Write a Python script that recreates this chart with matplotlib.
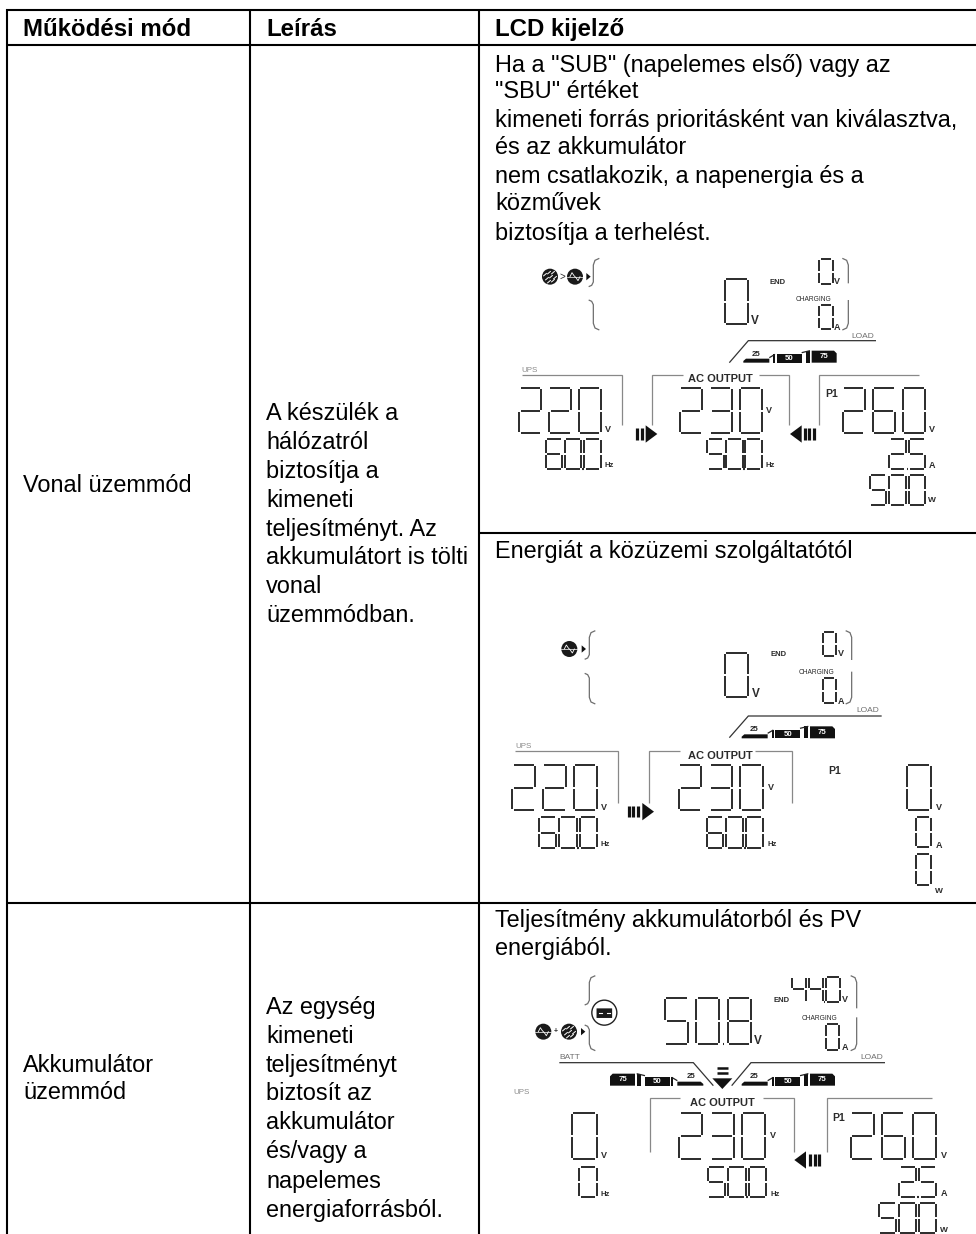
import matplotlib
matplotlib.use("Agg")
import matplotlib.pyplot as plt
from matplotlib.patches import Circle, Polygon, FancyBboxPatch

plt.rcParams["font.family"] = ["Liberation Sans", "DejaVu Sans"]

# --- table text ---
headers = ["Működési mód", "Leírás", "LCD kijelző"]
mode_line = ["Vonal üzemmód"]
mode_batt = ["Akkumulátor", "üzemmód"]
desc_line = ["A készülék a", "hálózatról", "biztosítja a", "kimeneti", "teljesítményt. Az",
             "akkumulátort is tölti", "vonal", "üzemmódban."]
desc_batt = ["Az egység", "kimeneti", "teljesítményt", "biztosít az", "akkumulátor",
             "és/vagy a", "napelemes", "energiaforrásból."]
lcd_note_1 = ['Ha a "SUB" (napelemes első) vagy az', '"SBU" értéket',
              "kimeneti forrás prioritásként van kiválasztva,", "és az akkumulátor",
              "nem csatlakozik, a napenergia és a", "közművek", "biztosítja a terhelést."]
lcd_note_2 = ["Energiát a közüzemi szolgáltatótól"]
lcd_note_3 = ["Teljesítmény akkumulátorból és PV", "energiából."]

# --- LCD readouts: ups volt, ups hz, output volt, output hz, pv volt, pv amp, pv watt ---
panel_1 = ["220", "60.0", "230", "50.0", "260", "2.5", "500"]
panel_2 = ["220", "60.0", "230", "60.0", "0", "0", "0"]
panel_3 = ["0", "0", "230", "50.0", "260", "2.5", "500"]
batt_volt_3 = "50.8"
batt_end_3 = "44.0"

SEGMENTS = {"0": "abcdef", "1": "bc", "2": "abged", "3": "abgcd", "4": "fgbc",
            "5": "afgcd", "6": "afgedc", "7": "abc", "8": "abcdefg", "9": "abcdfg"}
LCD = "#2b2b2b"
GREY = "#6e6e6e"

fig = plt.figure(figsize=(9.76, 12.34), dpi=100)
ax = fig.add_axes([0, 0, 1, 1])
ax.set_xlim(0, 976)
ax.set_ylim(1234, 0)
ax.axis("off")

def draw_lines(x, baselines, lines, size=16.9, weight="normal"):
    for y, line in zip(baselines, lines):
        ax.text(x, y, line, fontsize=size, fontweight=weight, va="baseline", ha="left", color="black")

# --- table frame ---
for y0, x0, x1 in [(9.5, 6, 976), (45, 6, 976), (533, 479, 976), (903, 6, 976)]:
    ax.plot([x0, x1], [y0, y0], color="black", lw=1.5, solid_capstyle="butt")
for x in [7, 250, 479]:
    ax.plot([x, x], [9, 1234], color="black", lw=1.5, solid_capstyle="butt")

draw_lines(23, [36], headers[:1], size=17.3, weight="bold")
draw_lines(266, [36], headers[1:2], size=17.3, weight="bold")
draw_lines(495, [36], headers[2:], size=17.3, weight="bold")
draw_lines(23, [492], mode_line)
draw_lines(23, [1072, 1099], mode_batt)
draw_lines(266, [420, 449, 478, 507, 536, 564, 593, 622], desc_line)
draw_lines(266, [1014, 1043, 1072, 1100, 1129, 1158, 1188, 1217], desc_batt)
draw_lines(495, [72, 98, 127, 154, 183, 210, 240], lcd_note_1)
draw_lines(495, [558], lcd_note_2)
draw_lines(495, [927, 955], lcd_note_3)


class Panel:
    # coordinates are in 3x zoom units relative to the panel origin
    def __init__(self, ox, oy):
        self.ox, self.oy = ox, oy

    def px(self, x, y):
        return self.ox + x / 3, self.oy + y / 3

    def line(self, pts, color=GREY, lw=0.9):
        xs, ys = zip(*[self.px(*p) for p in pts])
        ax.plot(xs, ys, color=color, lw=lw, solid_capstyle="butt", solid_joinstyle="miter")

    def label(self, x, y, s, size=6.7, weight="bold", color=LCD):
        X, Y = self.px(x, y)
        ax.text(X, Y, s, fontsize=size, fontweight=weight, color=color, ha="center", va="center")

    def poly(self, pts, color="#111111", **kw):
        ax.add_patch(Polygon([self.px(*p) for p in pts], closed=True, fc=color, ec="none", **kw))

    def digits(self, x0, x1, y0, y1, text):
        chars = text.replace(".", "")
        n = len(chars)
        ratio = 0.36 if y1 - y0 > 110 else 0.18
        w = (x1 - x0) / (n + ratio * (n - 1))
        gap = ratio * w
        ym = (y0 + y1) / 2
        dot_after = text.find(".") - 1 if "." in text else None
        for i, ch in enumerate(chars):
            l = x0 + i * (w + gap)
            r = l + w
            segs = {"a": [(l + 4, y0), (r - 4, y0)], "b": [(r, y0 + 3), (r, ym - 3)],
                    "c": [(r, ym + 3), (r, y1 - 3)], "d": [(l + 4, y1), (r - 4, y1)],
                    "e": [(l, ym + 3), (l, y1 - 3)], "f": [(l, y0 + 3), (l, ym - 3)],
                    "g": [(l + 5, ym), (r - 5, ym)]}
            for key in SEGMENTS[ch]:
                self.line(segs[key], color=LCD, lw=1.4)
            if i == dot_after:
                self.line([(r + gap / 2 - 2, y1), (r + gap / 2 + 3, y1)], color=LCD, lw=1.5)

    def grid_icon(self, x, y):
        cx, cy = self.px(x, y)
        ax.add_patch(Circle((cx, cy), 8, fc="#1a1a1a", ec="none"))
        ax.plot([cx - 8, cx + 8], [cy, cy], color="white", lw=0.5)
        ax.plot([cx - 5, cx - 3, cx - 1, cx + 1, cx + 3, cx + 5],
                [cy, cy - 4, cy - 1, cy + 1, cy + 4, cy], color="white", lw=0.6)

    def sun_icon(self, x, y):
        cx, cy = self.px(x, y)
        ax.add_patch(Circle((cx, cy), 8, fc="#1a1a1a", ec="none"))
        for dx, dy in [(-5, -2), (-3, 2), (-1, -4), (1, 0), (3, 4), (5, 1), (-1, 5), (3, -4)]:
            ax.plot([cx + dx - 1.4, cx + dx + 1.4], [cy + dy + 1.2, cy + dy - 1.2], color="white", lw=0.7)

    def tri(self, x, y, direction=1, w=13, h=20):
        self.poly([(x, y - h / 2), (x + direction * w, y), (x, y + h / 2)])

    def left_brace(self, x, y0, y1, tick0, tick1):
        self.line([(x + 18, y0), (x + 5, y0 + 6), (x, y0 + 20), (x, tick0 - 14), (x - 5, tick0 - 4), (x - 14, tick0)])
        self.line([(x - 14, tick1), (x - 5, tick1 + 4), (x, tick1 + 14), (x, y1 - 20), (x + 5, y1 - 6), (x + 18, y1)])

    def right_brace(self, x, y0, y1, gap0, gap1):
        self.line([(x - 18, y0), (x - 5, y0 + 6), (x, y0 + 20), (x, gap0)])
        self.line([(x, gap1), (x, y1 - 20), (x - 5, y1 - 6), (x - 18, y1)])

    def load_bars(self, x0, bottom, d=1):
        xx = lambda v: x0 + d * v
        self.poly([(xx(0), bottom - 5), (xx(8), bottom - 12), (xx(78), bottom - 12), (xx(78), bottom), (xx(0), bottom)])
        self.label(xx(38), bottom - 26, "25", size=5.6, color="#222222")
        self.line([(xx(78), bottom - 15), (xx(95), bottom - 25)], color="#222222", lw=0.9)
        self.poly([(xx(90), bottom - 25), (xx(96), bottom - 25), (xx(96), bottom), (xx(90), bottom)])
        self.poly([(xx(100), bottom - 25), (xx(175), bottom - 25), (xx(175), bottom), (xx(100), bottom)])
        self.label(xx(138), bottom - 12, "50", size=5.6, color="white")
        self.line([(xx(175), bottom - 30), (xx(200), bottom - 36)], color="#222222", lw=0.9)
        self.poly([(xx(188), bottom - 36), (xx(200), bottom - 36), (xx(200), bottom), (xx(188), bottom)])
        self.poly([(xx(205), bottom - 36), (xx(272), bottom - 36), (xx(280), bottom - 28), (xx(280), bottom), (xx(205), bottom)])
        self.label(xx(242), bottom - 19, "75", size=5.6, color="white")

    def flow_right(self, x_bars, x_tri, y, w=35, h=52):
        for b in x_bars:
            self.line([(b, y - 17), (b, y + 17)], color="#111111", lw=2.3)
        self.tri(x_tri, y, 1, w, h)

    def flow_left(self, x_bars, x_tri, y, w=35, h=52):
        for b in x_bars:
            self.line([(b, y - 17), (b, y + 17)], color="#111111", lw=2.3)
        self.tri(x_tri, y, -1, w, h)


# --- panel 1 ---
p = Panel(480, 250)
p.sun_icon(210, 80)
p.label(246, 80, ">", size=7, weight="normal")
p.grid_icon(285, 80)
p.tri(319, 80, 1, 13, 22)
p.left_brace(340, 25, 240, 110, 150)
p.digits(735, 805, 88, 222, "0")
p.label(826, 212, "V", size=8.5)
p.label(893, 96, "END", size=5.5)
p.label(1002, 148, "CHARGING", size=4.8, weight="normal")
p.digits(1018, 1058, 28, 102, "0")
p.label(1072, 95, "V", size=6.5)
p.digits(1018, 1058, 165, 238, "0")
p.label(1072, 232, "A", size=6.5)
p.right_brace(1105, 25, 240, 100, 150)
p.line([(748, 338), (805, 272), (1188, 272)], color="#333333")
p.label(1148, 258, "LOAD", size=6, weight="normal", color=GREY)
p.load_bars(790, 338)
p.label(150, 360, "UPS", size=5.8, weight="normal", color="#8a8a8a")
p.line([(125, 375), (425, 375), (425, 525)], color="#888888")
p.digits(118, 362, 415, 548, panel_1[0])
p.label(385, 540, "V", size=6.5)
p.digits(197, 362, 567, 658, panel_1[1])
p.label(388, 647, "Hz", size=5.6)
p.flow_right([471, 485], 497, 552)
p.line([(517, 525), (517, 375), (610, 375)], color="#888888")
p.line([(838, 375), (928, 375), (928, 525)], color="#888888")
p.label(722, 388, "AC OUTPUT", size=8)
p.digits(600, 845, 415, 548, panel_1[2])
p.label(868, 482, "V", size=6.5)
p.digits(682, 845, 567, 658, panel_1[3])
p.label(872, 647, "Hz", size=5.6)
p.flow_left([975, 988, 1001], 965, 552)
p.line([(1018, 525), (1018, 375), (1318, 375)], color="#888888")
p.label(1055, 433, "P1", size=7.5)
p.digits(1088, 1335, 415, 548, panel_1[4])
p.label(1355, 540, "V", size=6.5)
p.digits(1228, 1335, 567, 658, panel_1[5])
p.label(1355, 647, "A", size=6.5)
p.digits(1170, 1335, 675, 765, panel_1[6])
p.label(1355, 752, "W", size=6)

# --- panel 2 ---
p = Panel(480, 590)
p.grid_icon(268, 177)
p.tri(305, 177, 1, 13, 22)
p.left_brace(328, 122, 342, 208, 250)
p.digits(735, 805, 188, 322, "0")
p.label(828, 313, "V", size=8.5)
p.label(897, 194, "END", size=5.5)
p.label(1010, 247, "CHARGING", size=4.8, weight="normal")
p.digits(1028, 1067, 125, 198, "0")
p.label(1083, 192, "V", size=6.5)
p.digits(1028, 1067, 265, 340, "0")
p.label(1083, 333, "A", size=6.5)
p.right_brace(1115, 122, 342, 210, 245)
p.line([(748, 443), (805, 378), (1205, 378)], color="#333333")
p.label(1162, 363, "LOAD", size=6, weight="normal", color=GREY)
p.load_bars(785, 445)
p.label(130, 468, "UPS", size=5.8, weight="normal", color="#8a8a8a")
p.line([(105, 482), (413, 482), (413, 640)], color="#888888")
p.digits(97, 350, 525, 660, panel_2[0])
p.label(372, 653, "V", size=6.5)
p.digits(178, 350, 681, 774, panel_2[1])
p.label(377, 765, "Hz", size=5.6)
p.flow_right([446, 460, 474], 487, 665)
p.line([(507, 640), (507, 482), (600, 482)], color="#888888")
p.line([(825, 482), (935, 482), (935, 640)], color="#888888")
p.label(722, 497, "AC OUTPUT", size=8)
p.digits(597, 848, 525, 660, panel_2[2])
p.label(873, 593, "V", size=6.5)
p.digits(680, 848, 681, 774, panel_2[3])
p.label(877, 765, "Hz", size=5.6)
p.label(1065, 542, "P1", size=7.5)
p.digits(1280, 1352, 525, 660, panel_2[4])
p.label(1377, 653, "V", size=6.5)
p.digits(1308, 1352, 681, 772, panel_2[5])
p.label(1377, 765, "A", size=6.5)
p.digits(1308, 1352, 792, 885, panel_2[6])
p.label(1377, 905, "W", size=6)

# --- panel 3 ---
p = Panel(480, 910)
p.grid_icon(190, 365)
p.label(227, 366, "+", size=5)
p.sun_icon(267, 365)
p.tri(303, 365, 1, 13, 22)
p.left_brace(328, 197, 422, 285, 345)
cx, cy = p.px(373, 308)
ax.add_patch(Circle((cx, cy), 12.5, fc="white", ec="#222222", lw=1.0))
ax.add_patch(FancyBboxPatch((cx - 7.5, cy - 4), 15, 9, boxstyle="round,pad=0.3", fc="#1a1a1a", ec="none"))
ax.plot([cx - 5.5, cx - 2.5], [cy, cy], color="white", lw=0.8)
ax.plot([cx + 2.5, cx + 5.5], [cy, cy], color="white", lw=0.8)
p.digits(555, 812, 265, 403, batt_volt_3)
p.label(835, 393, "V", size=8.5)
p.label(905, 271, "END", size=5.5)
p.digits(935, 1080, 200, 275, batt_end_3)
p.label(1095, 268, "V", size=6.5)
p.label(1020, 325, "CHARGING", size=4.8, weight="normal")
p.digits(1037, 1078, 343, 420, "0")
p.label(1095, 412, "A", size=6.5)
p.right_brace(1130, 197, 422, 295, 322)
p.label(270, 443, "BATT", size=6, weight="normal", color=GREY)
p.label(1175, 443, "LOAD", size=6, weight="normal", color=GREY)
p.line([(238, 458), (640, 458), (700, 527)], color="#333333")
p.line([(755, 527), (813, 458), (1215, 458)], color="#333333")
p.load_bars(670, 527, d=-1)
p.load_bars(785, 527)
p.line([(710, 475), (745, 475)], color="#111111", lw=1.8)
p.line([(710, 490), (745, 490)], color="#111111", lw=1.8)
p.poly([(697, 505), (757, 505), (727, 537)])
p.label(125, 549, "UPS", size=5.8, weight="normal", color="#8a8a8a")
p.line([(510, 725), (510, 565), (600, 565)], color="#888888")
p.line([(848, 565), (943, 565), (943, 725)], color="#888888")
p.label(727, 578, "AC OUTPUT", size=8)
p.digits(275, 350, 608, 746, panel_3[0])
p.label(372, 738, "V", size=6.5)
p.digits(298, 350, 770, 860, panel_3[1])
p.label(376, 852, "Hz", size=5.6)
p.digits(598, 855, 608, 746, panel_3[2])
p.label(880, 678, "V", size=6.5)
p.digits(683, 858, 770, 860, panel_3[3])
p.label(885, 852, "Hz", size=5.6)
p.flow_left([990, 1005, 1018], 978, 750)
p.line([(1040, 725), (1040, 565), (1355, 565)], color="#888888")
p.label(1077, 625, "P1", size=7.5)
p.digits(1112, 1368, 608, 746, panel_3[4])
p.label(1392, 738, "V", size=6.5)
p.digits(1258, 1368, 770, 860, panel_3[5])
p.label(1392, 852, "A", size=6.5)
p.digits(1197, 1368, 880, 970, panel_3[6])
p.label(1392, 960, "W", size=6)

fig.savefig("out.png", dpi=100, facecolor="white")
